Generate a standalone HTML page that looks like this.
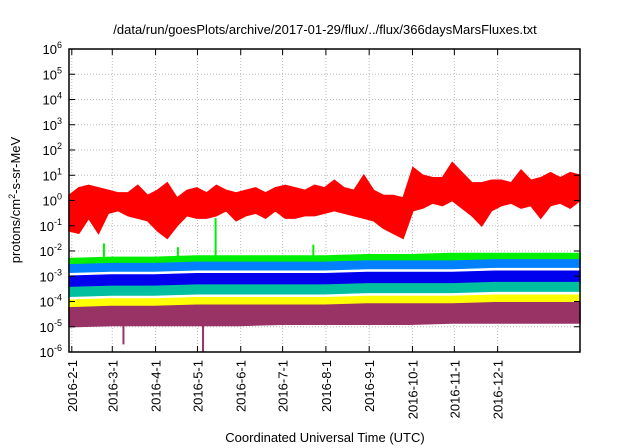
<!DOCTYPE html>
<html><head><meta charset="utf-8"><style>
body{margin:0;background:#fff;}
svg{display:block;font-family:"Liberation Sans",sans-serif;}
</style></head><body>
<svg id="c" width="640" height="448">
<text x="325" y="34" text-anchor="middle" font-size="13">/data/run/goesPlots/archive/2017-01-29/flux/../flux/366daysMarsFluxes.txt</text>
<text transform="translate(20,200) rotate(-90)" text-anchor="middle" font-size="13">protons/cm<tspan dy="-5" font-size="9">2</tspan><tspan dy="5">-s-sr-MeV</tspan></text>
<text x="325" y="442" text-anchor="middle" font-size="13">Coordinated Universal Time (UTC)</text>
<g id="grid"></g><g id="series"></g><g id="axes"></g>
</svg>
<script>
const monthLabels=["2016-2-1","2016-3-1","2016-4-1","2016-5-1","2016-6-1","2016-7-1","2016-8-1","2016-9-1","2016-10-1","2016-11-1","2016-12-1"];
const monthDays=[2,31,62,92,123,153,184,215,246,276,307];
const yExps=[-6,-5,-4,-3,-2,-1,0,1,2,3,4,5,6];
const redHi=[0.2,0.5,0.6,0.5,0.4,0.3,0.3,0.6,0.2,0.4,0.7,0.1,0.4,0.5,0.3,0.6,0.4,0.3,0.4,0.5,0.3,0.5,0.6,0.5,0.4,0.6,0.5,0.8,0.5,0.4,1.0,0.4,0.2,0.2,0.1,1.3,1.0,0.9,0.9,1.5,1.1,0.7,0.7,0.8,0.8,0.7,1.2,0.8,0.9,1.1,0.9,1.1,1.0];
const redLo=[-1.2,-1.3,-0.7,-1.3,-0.5,-0.4,-0.6,-0.7,-0.8,-1.2,-1.5,-1.0,-0.6,-0.7,-0.7,-0.6,-0.4,-0.8,-0.6,-0.5,-0.7,-0.4,-0.7,-0.7,-0.6,-0.6,-0.5,-0.4,-0.5,-0.6,-0.7,-0.8,-1.1,-1.3,-1.5,-0.4,-0.3,-0.1,-0.2,0.0,-0.3,-0.6,-1.0,-0.4,-0.2,-0.1,-0.3,-0.2,-0.7,-0.2,-0.1,-0.3,0.0];
const greenHi=[-2.3,-2.25,-2.25,-2.2,-2.2,-2.2,-2.2,-2.15,-2.15,-2.1,-2.1,-2.1,-2.1];
const blueLightHi=[-2.55,-2.5,-2.5,-2.45,-2.45,-2.45,-2.45,-2.4,-2.4,-2.4,-2.35,-2.35,-2.35];
const whiteHi=[-2.9,-2.85,-2.85,-2.8,-2.8,-2.8,-2.8,-2.75,-2.75,-2.75,-2.7,-2.7,-2.7];
const blueHi=[-3.0,-2.95,-2.95,-2.9,-2.9,-2.9,-2.9,-2.85,-2.85,-2.85,-2.8,-2.8,-2.8];
const tealHi=[-3.45,-3.4,-3.4,-3.35,-3.35,-3.35,-3.35,-3.3,-3.3,-3.3,-3.25,-3.25,-3.25];
const white2Hi=[-3.85,-3.8,-3.8,-3.75,-3.75,-3.75,-3.75,-3.7,-3.7,-3.7,-3.65,-3.65,-3.65];
const yellowHi=[-3.95,-3.9,-3.9,-3.85,-3.85,-3.85,-3.85,-3.8,-3.8,-3.8,-3.75,-3.75,-3.75];
const purpleHi=[-4.25,-4.2,-4.2,-4.15,-4.15,-4.15,-4.15,-4.1,-4.1,-4.1,-4.05,-4.05,-4.05];
const purpleLo=[-5.0,-4.95,-4.95,-4.95,-4.95,-4.9,-4.9,-4.9,-4.9,-4.85,-4.85,-4.85,-4.85];
const spikeDays=[25,78,105,175,39,96];
const spikeVals=[-1.7,-1.85,-0.7,-1.75,-5.7,-6.0];
const spikeColors=["#00ee00","#00ee00","#00ee00","#00ee00","#993366","#993366"];
const NS="http://www.w3.org/2000/svg";
const L=69,R=580,T=49,B=352,D0=0,D1=366;
const xs=d=>L+(d-D0)/(D1-D0)*(R-L);
const ys=e=>B-(e+6)/12*(B-T);
function mk(tag,attrs,parent){const e=document.createElementNS(NS,tag);for(const k in attrs)e.setAttribute(k,attrs[k]);parent.appendChild(e);return e;}
const grid=document.getElementById('grid'),ser=document.getElementById('series'),ax=document.getElementById('axes');
yExps.forEach(e=>{const y=ys(e);
 const g=mk('line',{x1:L,x2:R,y1:y,y2:y,stroke:'#bbb','stroke-dasharray':'1,2','stroke-width':1},grid);
 
 
 mk('line',{x1:L,x2:L+6,y1:y,y2:y,stroke:'#000'},ax);
 mk('line',{x1:R-6,x2:R,y1:y,y2:y,stroke:'#000'},ax);
 const t=mk('text',{x:L-7,y:y+5,'text-anchor':'end','font-size':13},ax);
 
 
 t.innerHTML='10<tspan dy="-6" font-size="9">'+e+'</tspan>';
});
monthDays.forEach((d,i)=>{const x=xs(d);
 const g=mk('line',{x1:x,x2:x,y1:T,y2:B,stroke:'#bbb','stroke-dasharray':'1,2'},grid);
 
 
 mk('line',{x1:x,x2:x,y1:B,y2:B-6,stroke:'#000'},ax);
 mk('line',{x1:x,x2:x,y1:T,y2:T+6,stroke:'#000'},ax);
 const t=mk('text',{transform:`translate(${x+5},360) rotate(-90)`,'text-anchor':'end','font-size':13},ax);
 
 
 t.textContent=monthLabels[i];
});
function band(hi,lo,color,name){
 const step=(D1-D0)/(hi.length-1);const stepL=(D1-D0)/(lo.length-1);
 let p=hi.map((v,i)=>xs(i*step)+','+ys(v));
 let q=lo.map((v,i)=>xs(i*stepL)+','+ys(v)).reverse();
 const e=mk('polygon',{points:p.concat(q).join(' '),fill:color,stroke:color,'stroke-width':1.5},ser);
 
 
}
band(greenHi,blueLightHi.map(v=>v-0.1),'#00ee00','series-green');
band(blueLightHi,whiteHi,'#0080ff','series-lightblue');
band(whiteHi,blueHi,'#ffffff','series-white');
band(blueHi,tealHi,'#0000ee','series-blue');
band(tealHi,white2Hi,'#00c0a0','series-teal');
band(white2Hi,yellowHi,'#ffffff','series-white2');
band(yellowHi,purpleHi.map(v=>v-0.1),'#ffff00','series-yellow');
band(purpleHi,purpleLo,'#993366','series-purple');
spikeDays.forEach((d,i)=>{const x=xs(d);
 const base=spikeVals[i]>-4?-2.4:-4.9;
 const s=mk('line',{x1:x,x2:x,y1:ys(base),y2:ys(spikeVals[i]),stroke:spikeColors[i],'stroke-width':2},ser);
 
 
});
band(redHi,redLo,'#ff0000','series-red');
const f=mk('rect',{x:L,y:T,width:R-L,height:B-T,fill:'none',stroke:'#000','stroke-width':1.5},ax);


</script>
</body></html>
